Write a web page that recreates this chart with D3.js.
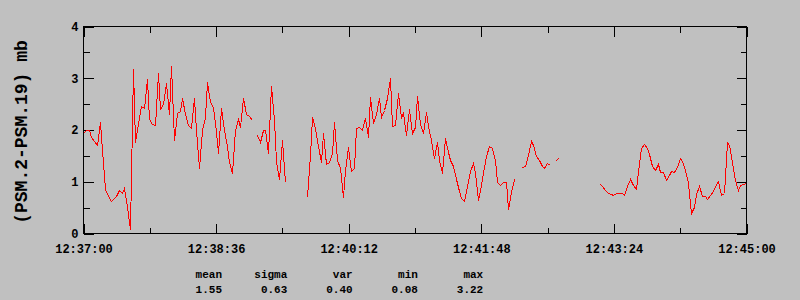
<!DOCTYPE html>
<html lang="en">
<head>
<meta charset="UTF-8">
<title>PSM.2-PSM.19</title>
<script src="https://cdn.jsdelivr.net/npm/d3@7/dist/d3.min.js"></script>
<style>
  body { margin: 0; background: #c0c0c0; }
  svg { display: block; }
  text { font-family: "Liberation Mono", "DejaVu Sans Mono", monospace; font-weight: bold; fill: #000; }
</style>
</head>
<body>
<svg id="chart" width="800" height="300"></svg>
<script>
// one sample every 2 s starting at 12:37:00, null = no data
const sampleStep = 2;
const psmDiff = [
  1.93, 1.99, 2.0, 1.85, 1.78, 1.7, 2.15, 1.6, 0.85, 0.72,
  0.62, 0.66, 0.72, 0.84, 0.78, 0.86, 0.5, 0.08, 3.16, 1.75,
  2.12, 2.45, 2.41, 2.97, 2.2, 2.1, 2.09, 3.1, 2.4, 2.5,
  2.9, 2.3, 3.22, 1.8, 2.32, 2.36, 2.6, 2.3, 2.09, 2.02,
  2.6, 2.0, 1.25, 2.0, 2.25, 2.92, 2.54, 2.44, 1.96, 1.54,
  2.41, 2.0, 1.68, 1.38, 1.15, 2.0, 2.2, 2.05, 2.6, 2.3,
  2.26, 2.18, null, 1.9, 1.76, 2.0, 2.0, 1.54, 2.85, 2.18,
  1.4, 1.05, 1.8, 0.99, null, null, null, null, null, null,
  null, 0.7, 1.51, 2.25, 2.02, 1.68, 1.38, 1.93, 1.33, 1.38,
  1.54, 2.15, 1.41, 1.25, 0.7, 1.22, 1.66, 1.19, 1.25, 2.02,
  2.05, 1.99, 2.22, 1.86, 2.63, 2.13, 2.3, 2.6, 2.25, 2.38,
  2.6, 3.0, 2.07, 2.09, 2.7, 2.25, 2.31, 1.89, 2.4, 1.93,
  2.05, 2.65, 2.1, 1.93, 2.33, 2.07, 1.8, 1.44, 1.76, 1.41,
  1.15, 1.83, 1.57, 1.42, 1.3, 1.04, 0.82, 0.68, 0.62, 0.9,
  1.19, 1.35, 1.15, 0.64, 0.93, 1.28, 1.48, 1.68, 1.64, 1.41,
  0.99, 0.93, 0.99, 0.99, 0.46, 0.8, 1.04, null, null, 1.28,
  1.3, 1.5, 1.78, 1.7, 1.48, 1.42, 1.3, 1.25, 1.36, 1.31,
  null, 1.4, 1.45, null, null, null, null, null, null, null,
  null, null, null, null, null, null, null, 0.95, 0.9, 0.84,
  0.78, 0.75, 0.73, 0.77, 0.77, 0.77, 0.74, 0.91, 1.05, 0.93,
  0.85, 1.2, 1.64, 1.72, 1.65, 1.52, 1.3, 1.22, 1.33, 1.18,
  1.17, 1.03, 1.12, 1.2, 1.18, 1.28, 1.45, 1.4, 1.22, 0.96,
  0.38, 0.5, 0.75, 0.91, 0.72, 0.72, 0.65, 0.73, 0.82, 0.95,
  1.0, 0.73, 0.77, 1.76, 1.7, 1.38, 1.02, 0.84, 0.92, 0.95,
  0.96
];

const xMajorSecs = [0, 96, 192, 288, 384, 480];
const xTickLabels = ["12:37:00", "12:38:36", "12:40:12", "12:41:48", "12:43:24", "12:45:00"];
const xMinorSecs = [48, 144, 240, 336, 432];
const yMajor = [0, 1, 2, 3, 4];
const yMinor = [0.5, 1.5, 2.5, 3.5];
const yTitle = "(PSM.2-PSM.19) mb";
const statNames = ["mean", "sigma", "var", "min", "max"];
const statValues = ["1.55", "0.63", "0.40", "0.08", "3.22"];

const box = { left: 83.5, right: 746.5, top: 26.5, bottom: 233.5 };
const svg = d3.select("#chart");

const x = d3.scaleLinear().domain([0, 480]).range([box.left, box.right]);
const y = d3.scaleLinear().domain([0, 4]).range([box.bottom, box.top]);
const px = v => Math.round(v - 0.5) + 0.5; // snap to pixel centres

function styleAxis(g) {
  g.select(".domain").remove();
  g.selectAll(".tick line").attr("stroke", "#000").attr("shape-rendering", "crispEdges");
  g.selectAll("text").attr("font-family", null).attr("font-size", "12px").attr("fill", "#000");
}

// x axes: labelled bottom, plain top, minor ticks both sides
svg.append("g").attr("transform", `translate(0,${box.bottom})`)
  .call(d3.axisBottom(x).tickValues(xMajorSecs).tickSizeInner(-10).tickSizeOuter(0).tickPadding(11)
    .tickFormat((d, i) => xTickLabels[i]))
  .call(styleAxis);
svg.append("g").attr("transform", `translate(0,${box.bottom})`)
  .call(d3.axisBottom(x).tickValues(xMinorSecs).tickSizeInner(-6).tickSizeOuter(0).tickFormat(""))
  .call(styleAxis);
svg.append("g").attr("transform", `translate(0,${box.top})`)
  .call(d3.axisTop(x).tickValues(xMajorSecs).tickSizeInner(-10).tickSizeOuter(0).tickFormat(""))
  .call(styleAxis);
svg.append("g").attr("transform", `translate(0,${box.top})`)
  .call(d3.axisTop(x).tickValues(xMinorSecs).tickSizeInner(-6).tickSizeOuter(0).tickFormat(""))
  .call(styleAxis);

// y axes
svg.append("g").attr("transform", `translate(${box.left},0)`)
  .call(d3.axisLeft(y).tickValues(yMajor).tickSizeInner(-10).tickSizeOuter(0).tickPadding(5)
    .tickFormat(d3.format("d")))
  .call(styleAxis);
svg.append("g").attr("transform", `translate(${box.left},0)`)
  .call(d3.axisLeft(y).tickValues(yMinor).tickSizeInner(-6).tickSizeOuter(0).tickFormat(""))
  .call(styleAxis);
svg.append("g").attr("transform", `translate(${box.right},0)`)
  .call(d3.axisRight(y).tickValues(yMajor).tickSizeInner(-10).tickSizeOuter(0).tickFormat(""))
  .call(styleAxis);
svg.append("g").attr("transform", `translate(${box.right},0)`)
  .call(d3.axisRight(y).tickValues(yMinor).tickSizeInner(-6).tickSizeOuter(0).tickFormat(""))
  .call(styleAxis);

// frame
svg.append("rect")
  .attr("x", box.left).attr("y", box.top)
  .attr("width", box.right - box.left).attr("height", box.bottom - box.top)
  .attr("fill", "none").attr("stroke", "#000").attr("shape-rendering", "crispEdges");

// data line
const line = d3.line()
  .defined(d => d != null)
  .x((d, i) => px(x(i * sampleStep)))
  .y(d => px(y(d)))
  .curve(d3.curveLinear);

svg.append("path")
  .datum(psmDiff)
  .attr("d", line)
  .attr("fill", "none")
  .attr("stroke", "#ff0000")
  .attr("stroke-width", 1)
  .attr("shape-rendering", "crispEdges");

// y title
svg.append("text")
  .attr("transform", `translate(21,${(box.top + box.bottom) / 2 + 2}) rotate(-90)`)
  .attr("text-anchor", "middle")
  .attr("dy", "0.35em")
  .attr("font-size", "18px")
  .text(yTitle);

// statistics block
const stats = svg.append("g");
stats.selectAll(".stat-name")
  .data(statNames)
  .enter().append("text")
  .attr("class", "stat-name")
  .attr("x", (d, i) => 222 + i * 65.3)
  .attr("y", 277.5)
  .attr("text-anchor", "end")
  .attr("font-size", "11px")
  .text(d => d);
stats.selectAll(".stat-value")
  .data(statValues)
  .enter().append("text")
  .attr("class", "stat-value")
  .attr("x", (d, i) => 222 + i * 65.3)
  .attr("y", 292.5)
  .attr("text-anchor", "end")
  .attr("font-size", "11px")
  .text(d => d);
</script>
</body>
</html>
